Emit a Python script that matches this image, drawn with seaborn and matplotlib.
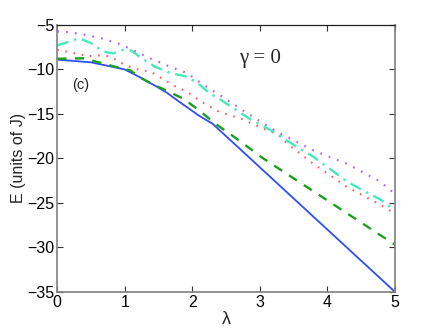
import pandas as pd
import seaborn as sns
import matplotlib.pyplot as plt

# values
blue_lam = [0, 0.5, 1.0, 1.23, 1.42, 1.62, 1.82, 2.1, 2.3, 5]
blue_E = [-8.9, -9.2, -10.0, -10.9, -11.7, -12.6, -13.7, -15.2, -16.1, -35.0]

green_lam = [0, 0.4, 0.56, 0.86, 1.08, 1.25, 1.42, 1.57, 1.87, 2.1, 2.36, 2.66, 3.05, 5]
green_E = [-8.8, -8.75, -9.1, -9.7, -10.1, -11.0, -11.7, -12.2, -13.3, -14.6, -16.2, -17.8, -20.0, -29.7]

red_lam = [0, 0.14, 0.27, 0.46, 0.71, 0.83, 0.96, 1.15, 1.38, 1.55, 1.72, 1.92, 2.15,
           2.41, 2.71, 3.1, 3.27, 3.4, 3.79, 4.29, 4.78, 5]
red_E = [-7.8, -8.0, -8.2, -8.5, -8.4, -8.75, -9.3, -9.95, -10.25, -11.0, -11.8, -12.5, -13.7,
         -14.8, -15.5, -16.8, -17.3, -18.3, -20.6, -23.2, -25.2, -26.2]

cyan_lam = [0, 0.17, 0.32, 0.49, 0.69, 0.83, 0.98, 1.1, 1.28, 1.45, 1.67, 1.92, 2.09, 2.26,
            2.46, 2.86, 3.25, 3.42, 3.79, 4.29, 4.48, 4.78, 5]
cyan_E = [-7.3, -6.9, -6.5, -7.0, -8.0, -8.2, -7.8, -7.9, -8.9, -9.7, -10.4, -10.8, -11.6, -12.7,
          -13.6, -15.6, -17.2, -18.1, -19.8, -22.6, -23.4, -24.6, -25.8]

purple_lam = [0, 0.17, 0.41, 0.71, 0.96, 1.2, 1.42, 1.67, 1.92, 2.12, 2.41, 2.81, 3.25,
              3.79, 4.29, 4.78, 5]
purple_E = [-5.75, -5.8, -6.1, -6.6, -7.25, -8.1, -8.9, -9.7, -10.4, -11.5, -12.9, -14.9, -17.0,
            -19.1, -20.6, -22.6, -24.0]

x_ticks = [0, 1, 2, 3, 4, 5]
y_ticks = [-35, -30, -25, -20, -15, -10, -5]

sns.set_style("ticks")
plt.rcParams["font.family"] = ["Liberation Sans", "DejaVu Sans"]
plt.rcParams["axes.unicode_minus"] = True

fig = plt.figure(figsize=(4.36, 3.28), dpi=100)
ax = fig.add_axes([0.131, 0.11, 0.775, 0.814])

# Step 1: draw each curve
sns.lineplot(x=blue_lam, y=blue_E, ax=ax, color="#2f4ff5", lw=1.3, sort=False)
sns.lineplot(x=green_lam, y=green_E, ax=ax, color="#1e9e1e", lw=1.7, sort=False,
             linestyle=(0, (4, 3.5)))
sns.lineplot(x=red_lam, y=red_E, ax=ax, color="#ff5c5c", lw=1.5, sort=False,
             linestyle=(0, (0.8, 3.2)))
sns.lineplot(x=cyan_lam, y=cyan_E, ax=ax, color="#44eab8", lw=1.7, sort=False,
             linestyle=(0, (5, 2.5, 1, 2.5)))
sns.lineplot(x=purple_lam, y=purple_E, ax=ax, color="#b066ff", lw=1.6, sort=False,
             linestyle=(0, (0.8, 3.2)))

# Step 2: axes styling (matlab-like box)
ax.set_xlim(0, 5)
ax.set_ylim(-35, -5)
ax.set_xticks(x_ticks)
ax.set_yticks(y_ticks)
ax.tick_params(direction="in", length=4, width=0.8, top=True, right=True,
               labelsize=11.5, colors="#333333", labelcolor="black", pad=2)
for side in ["left", "bottom", "right"]:
    ax.spines[side].set_color("#808080")
    ax.spines[side].set_linewidth(1.2)
ax.spines["top"].set_color("#222222")
ax.spines["top"].set_linewidth(0.9)

ax.set_xlabel("λ", fontsize=13, labelpad=1)
ax.set_ylabel("E (units of J)", fontsize=11.5, labelpad=1)

ax.text(3.0, -8.8, "γ = 0", fontsize=15, family=["Liberation Serif", "DejaVu Serif"],
        ha="center", va="center")
ax.text(0.35, -11.7, "(c)", fontsize=10.5, ha="center", va="center")

fig.savefig("out.png", dpi=100)
